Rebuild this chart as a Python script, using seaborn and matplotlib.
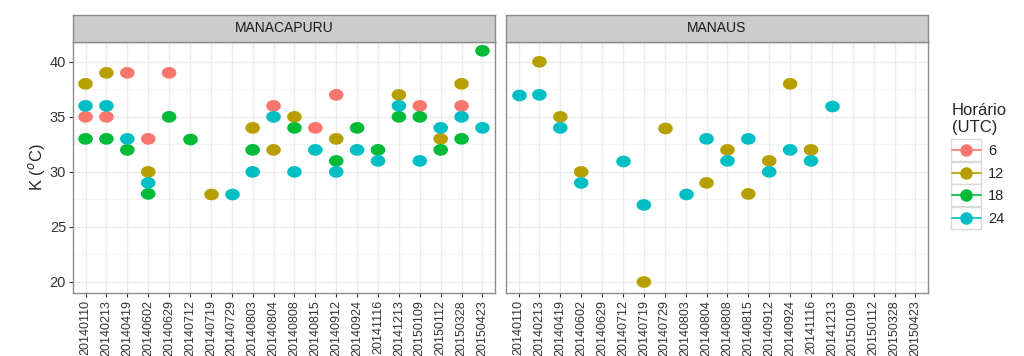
import numpy as np
import pandas as pd
import matplotlib
matplotlib.use("Agg")
import matplotlib.pyplot as plt
from matplotlib.lines import Line2D
from matplotlib.patches import Rectangle
import seaborn as sns

# Datas das sondagens (eixo x, comum aos dois painéis)
dates = ["20140110", "20140213", "20140419", "20140602", "20140629",
         "20140712", "20140719", "20140729", "20140803", "20140804",
         "20140808", "20140815", "20140912", "20140924", "20141116",
         "20141213", "20150109", "20150112", "20150328", "20150423"]
horas = [6, 12, 18, 24]
locais = ["MANACAPURU", "MANAUS"]

# Índice K por horário (None = sem sondagem)
manacapuru_6 = [35, 35, 39, 33, 39, None, None, None, None, 36,
                None, 34, 37, None, None, None, 36, None, 36, None]
manacapuru_12 = [38, 39, None, 30, None, None, 28, None, 34, 32,
                 35, None, 33, None, None, 37, None, 33, 38, None]
manacapuru_18 = [33, 33, 32, 28, 35, 33, None, None, 32, None,
                 34, None, 31, 34, 32, 35, 35, 32, 33, 41]
manacapuru_24 = [36, 36, 33, 29, None, None, None, 28, 30, 35,
                 30, 32, 30, 32, 31, 36, 31, 34, 35, 34]

manaus_12 = [None, 40, 35, 30, None, None, 20, 34, None, 29,
             32, 28, 31, 38, 32, None, None, None, None, None]
manaus_24 = [37, 37, 34, 29, None, 31, 27, None, 28, 33,
             31, 33, 30, 32, 31, 36, None, None, None, None]

series = {
    "MANACAPURU": {6: manacapuru_6, 12: manacapuru_12, 18: manacapuru_18, 24: manacapuru_24},
    "MANAUS": {12: manaus_12, 24: manaus_24},
}

rows = []
for local, por_hora in series.items():
    for h, vals in por_hora.items():
        for d, v in zip(dates, vals):
            if v is not None:
                rows.append({"local": local, "data": d, "hora": h, "K": v})
df = pd.DataFrame(rows)

sns.set_theme(style="whitegrid")
plt.rcParams['font.family'] = ['Liberation Sans', 'DejaVu Sans']

palette = {6: "#F8766D", 12: "#B79F00", 18: "#00BA38", 24: "#00BFC4"}

# marcador levemente elíptico, como no original
t = np.linspace(0, 2 * np.pi, 48)
ellipse = np.column_stack([1.25 * np.cos(t), np.sin(t)])

W, H = 1024, 356
fig = plt.figure(figsize=(W / 100, H / 100), dpi=100)

panels = [(73, 495), (506, 928)]
top, bottom = 42, 293
strip_top = 15

for (x0, x1), local in zip(panels, locais):
    ax = fig.add_axes([x0 / W, 1 - bottom / H, (x1 - x0) / W, (bottom - top) / H])
    sns.stripplot(data=df[df["local"] == local], x="data", y="K", hue="hora",
                  order=dates, hue_order=horas, palette=palette, jitter=False,
                  size=10.5, marker=ellipse, linewidth=0, legend=False, ax=ax)
    ax.set_ylim(19.0, 41.8)
    ax.set_xlim(-0.6, len(dates) - 0.4)
    ax.set_yticks([20, 25, 30, 35, 40])
    ax.set_yticks([22.5, 27.5, 32.5, 37.5], minor=True)
    ax.grid(True, which="major", color="#EBEBEB", linewidth=1.0)
    ax.grid(True, which="minor", axis="y", color="#F5F5F5", linewidth=0.6)
    ax.set_axisbelow(True)
    ax.set_facecolor("white")
    for sp in ax.spines.values():
        sp.set_color("#8C8C8C")
        sp.set_linewidth(1.0)
    ax.tick_params(axis="x", rotation=90, labelsize=9, colors="#333333",
                   length=3, width=0.8, pad=2, bottom=True)
    ax.set_xlabel("")
    if local == "MANACAPURU":
        ax.tick_params(axis="y", labelsize=10.5, colors="#333333", length=3,
                       width=0.8, left=True, pad=2)
        ax.set_ylabel(r"K ($^o$C)", fontsize=12, labelpad=2)
    else:
        ax.tick_params(axis="y", labelleft=False, left=False)
        ax.set_ylabel("")

    sx = fig.add_axes([x0 / W, 1 - top / H, (x1 - x0) / W, (top - strip_top) / H])
    sx.set_facecolor("#CCCCCC")
    sx.set_xticks([])
    sx.set_yticks([])
    for sp in sx.spines.values():
        sp.set_color("#8C8C8C")
        sp.set_linewidth(1.0)
    sx.text(0.5, 0.5, local, ha="center", va="center", fontsize=10,
            color="#1A1A1A", transform=sx.transAxes)

handles = [Line2D([0], [0], color=palette[h], marker="o", markersize=8,
                  linewidth=1.2, label=str(h)) for h in horas]
leg = fig.legend(handles=handles, title="Horário\n(UTC)", loc="upper left",
                 bbox_to_anchor=(946 / W, 1 - 97 / H), frameon=False,
                 fontsize=10.5, title_fontsize=12, handlelength=2.0,
                 labelspacing=0.6, handletextpad=0.5, alignment="left",
                 borderaxespad=0)

# caixas cinzas das chaves da legenda (estilo ggplot)
fig.canvas.draw()
for h in leg.legend_handles:
    bb = h.get_window_extent()
    cx, cy = (bb.x0 + bb.x1) / 2, (bb.y0 + bb.y1) / 2
    fig.patches.append(Rectangle(((cx - 15) / W, (cy - 11) / H), 30 / W, 22 / H,
                                 transform=fig.transFigure, facecolor="white",
                                 edgecolor="#D9D9D9", linewidth=1.0, zorder=-1))

fig.savefig("out.png", dpi=100)
